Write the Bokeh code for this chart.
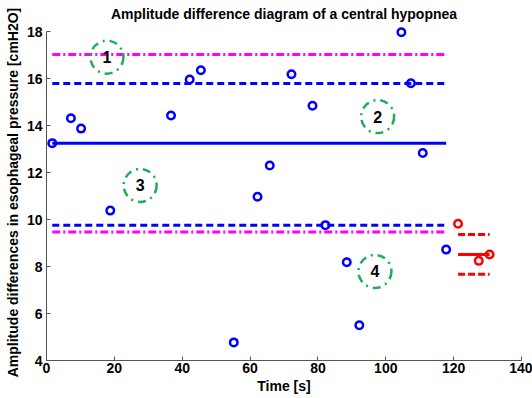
from bokeh.plotting import figure
from bokeh.models import Range1d, FixedTicker, ColumnDataSource
from bokeh.core.properties import value
from bokeh.embed import file_html
from bokeh.resources import INLINE

# ---- data ----
blue_t = [1.7, 7.2, 10.2, 18.8, 36.7, 42.2, 45.5, 55.2, 62.2, 65.8,
          72.2, 78.4, 82.2, 88.5, 92.2, 104.6, 107.4, 110.9, 117.8]
blue_v = [13.25, 14.31, 13.87, 10.38, 14.43, 15.96, 16.35, 4.77, 10.97, 12.30,
          16.18, 14.84, 9.76, 8.18, 5.50, 17.97, 15.80, 12.83, 8.72]

red_t = [121.3, 127.4, 130.6]
red_v = [9.82, 8.24, 8.51]

blue_level = 13.25
blue_upper = 15.79
blue_lower = 9.76
magenta_upper = 17.02
magenta_lower = 9.47
red_level = 8.51
red_upper = 9.36
red_lower = 7.67

region_t = [17.8, 97.6, 27.6, 96.8]
region_v = [16.91, 14.38, 11.45, 7.79]
region_text = ["1", "2", "3", "4"]

x_ticks = [0, 20, 40, 60, 80, 100, 120, 140]
y_ticks = [4, 6, 8, 10, 12, 14, 16, 18]

FONT = "Liberation Sans"

p = figure(width=532, height=398, output_backend="svg", toolbar_location=None,
           x_range=Range1d(0, 140), y_range=Range1d(4, 18.3),
           min_border_left=46, min_border_right=11, min_border_top=24,
           min_border_bottom=38,
           title="Amplitude difference diagram of a central hypopnea")
p.outline_line_color = None
p.grid.visible = False
p.background_fill_color = "white"

p.title.align = "center"
p.title.text_font = FONT
p.title.text_font_size = "14px"
p.title.text_font_style = "bold"
p.title.text_color = "black"
p.title.standoff = 5

for ax in (p.xaxis[0], p.yaxis[0]):
    ax.major_tick_in = 4
    ax.major_tick_out = 0
    ax.minor_tick_line_color = None
    ax.axis_line_color = "#555555"
    ax.major_tick_line_color = "#555555"
    ax.major_label_text_font = FONT
    ax.major_label_text_font_size = "14px"
    ax.major_label_text_font_style = "bold"
    ax.major_label_text_color = "black"
    ax.axis_label_text_font = FONT
    ax.axis_label_text_font_size = "14px"
    ax.axis_label_text_font_style = "bold"
    ax.axis_label_text_color = "black"

p.xaxis.ticker = FixedTicker(ticks=x_ticks)
p.yaxis.ticker = FixedTicker(ticks=y_ticks)
p.yaxis.bounds = (4, 18)
p.xaxis.major_label_standoff = 2
p.yaxis.major_label_standoff = 4
p.xaxis.axis_label = "Time [s]"
p.yaxis.axis_label = "Amplitude differences in esophageal pressure [cmH2O]"
p.xaxis.axis_label_standoff = 2
p.yaxis.axis_label_standoff = 3

t0, t1 = blue_t[0], blue_t[-1]
r0, r1 = red_t[0], red_t[-1]

# horizontal reference lines (blue series)
p.line([t0, t1], [magenta_upper] * 2, line_color="#ff00ff", line_width=3, line_dash="8 3 2 3")
p.line([t0, t1], [magenta_lower] * 2, line_color="#ff00ff", line_width=3, line_dash="8 3 2 3")
p.line([t0, t1], [blue_upper] * 2, line_color="#0000ff", line_width=3, line_dash="7 4")
p.line([t0, t1], [blue_lower] * 2, line_color="#0000ff", line_width=3, line_dash="7 4")
p.line([t0, t1], [blue_level] * 2, line_color="#0000ff", line_width=3)

# red series lines
p.line([r0, r1], [red_upper] * 2, line_color="#ff0000", line_width=3, line_dash="7 3")
p.line([r0, r1], [red_lower] * 2, line_color="#ff0000", line_width=3, line_dash="7 3")
p.line([r0, r1], [red_level] * 2, line_color="#ff0000", line_width=3)

# data points
p.scatter(blue_t, blue_v, marker="circle", size=7.5, fill_color=None,
          line_color="#0000ff", line_width=2.5)
p.scatter(red_t, red_v, marker="circle", size=7.5, fill_color=None,
          line_color="#ff0000", line_width=2.5)

# region markers
src = ColumnDataSource(dict(t=region_t, v=region_v, s=region_text))
p.scatter("t", "v", source=src, marker="circle", size=33, fill_color=None,
          line_color="#1fad55", line_width=2.5, line_dash="8 5 2 5")
p.text("t", "v", text="s", source=src, text_align="center", text_baseline="middle",
       text_font=value(FONT), text_font_size="16px", text_font_style="bold",
       text_color="black")

open("out.html", "w").write(file_html(p, INLINE))
